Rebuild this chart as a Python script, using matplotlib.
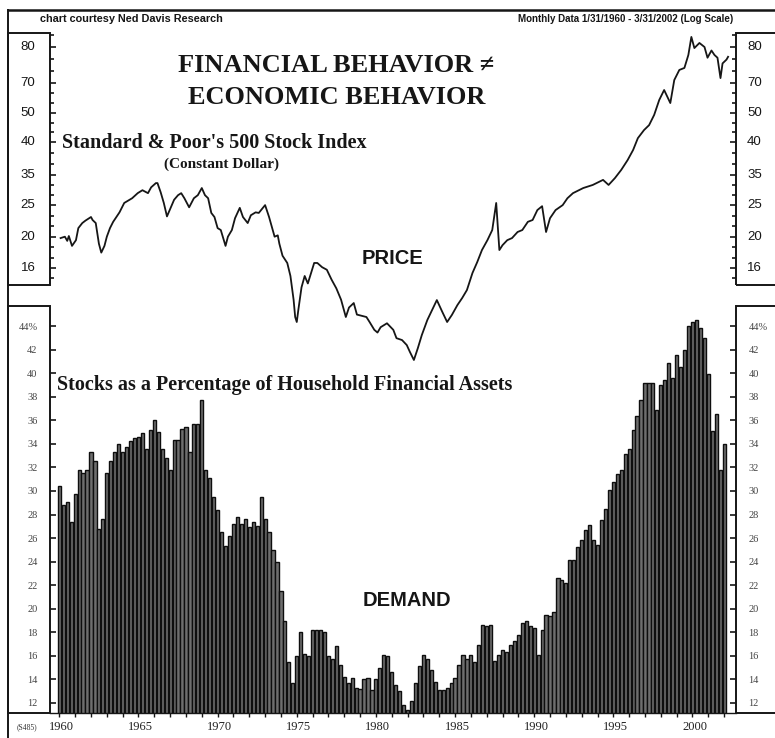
import matplotlib
matplotlib.use('Agg')
import matplotlib.pyplot as plt
from matplotlib.patches import Rectangle
from matplotlib.lines import Line2D
from matplotlib.ticker import FixedLocator, NullLocator
import matplotlib.transforms as mtransforms
import numpy as np

# ---------------- data ----------------
price_years = [1960.08, 1960.35, 1960.5, 1960.6, 1960.8, 1961.05, 1961.2, 1961.45, 1961.65, 1962.0,
               1962.1, 1962.3, 1962.5, 1962.65, 1962.85, 1963.0, 1963.2, 1963.4, 1963.6, 1963.8,
               1964.1, 1964.6, 1964.95, 1965.25, 1965.6, 1965.8, 1966.1, 1966.2, 1966.4, 1966.6,
               1966.8, 1967.05, 1967.25, 1967.5, 1967.7, 1967.9, 1968.2, 1968.5, 1968.75, 1969.0,
               1969.2, 1969.4, 1969.6, 1969.8, 1970.0, 1970.2, 1970.5, 1970.65, 1970.9, 1971.1,
               1971.4, 1971.6, 1971.9, 1972.1, 1972.4, 1972.6, 1973.0, 1973.25, 1973.6, 1973.8,
               1973.9, 1974.1, 1974.4, 1974.6, 1974.8, 1974.9, 1975.0, 1975.1, 1975.3, 1975.5,
               1975.7, 1975.9, 1976.1, 1976.3, 1976.6, 1976.9, 1977.2, 1977.5, 1977.8, 1978.1,
               1978.3, 1978.6, 1978.8, 1979.1, 1979.4, 1979.6, 1979.9, 1980.1, 1980.3, 1980.7,
               1981.1, 1981.3, 1981.65, 1981.95, 1982.15, 1982.4, 1982.65, 1982.9, 1983.25, 1983.55,
               1983.85, 1984.2, 1984.5, 1984.8, 1985.15, 1985.45, 1985.75, 1986.1, 1986.4, 1986.7,
               1987.05, 1987.35, 1987.6, 1987.8, 1988.0, 1988.3, 1988.6, 1988.95, 1989.25, 1989.6,
               1989.9, 1990.2, 1990.5, 1990.75, 1991.0, 1991.35, 1991.8, 1992.1, 1992.45, 1993.1,
               1993.7, 1994.35, 1994.7, 1995.1, 1995.5, 1995.9, 1996.25, 1996.55, 1996.94, 1997.26,
               1997.58, 1997.9, 1998.21, 1998.6, 1998.85, 1999.17, 1999.49, 1999.74, 1999.93, 2000.12,
               2000.44, 2000.76, 2000.95, 2001.2, 2001.39, 2001.58, 2001.77, 2001.9, 2002.15, 2002.25]
price_values = [19.9, 20.1, 19.5, 20.2, 18.8, 19.6, 21.4, 22.2, 22.6, 23.2,
                22.7, 22.2, 19.1, 17.9, 18.8, 20.1, 21.4, 22.4, 23.2, 24.0,
                25.7, 26.6, 27.6, 28.2, 27.6, 28.8, 29.7, 29.7, 27.8, 25.7,
                23.3, 24.9, 26.3, 27.2, 27.6, 26.6, 24.9, 26.6, 27.2, 28.65,
                27.2, 26.6, 23.9, 23.2, 21.4, 21.1, 18.8, 20.1, 21.1, 23.0,
                24.8, 23.2, 22.2, 23.5, 24.0, 23.9, 25.3, 23.2, 20.1, 20.3,
                19.1, 17.5, 16.6, 15.1, 12.7, 11.2, 10.8, 11.8, 13.9, 15.1,
                14.3, 15.4, 16.6, 16.6, 16.1, 15.8, 14.7, 13.8, 12.7, 11.2,
                12.0, 12.4, 11.4, 11.3, 11.2, 10.8, 10.2, 10.0, 10.4, 10.7,
                10.2, 9.6, 9.47, 9.13, 8.68, 8.19, 8.93, 9.82, 10.96, 11.78,
                12.67, 11.61, 10.8, 11.37, 12.22, 12.86, 13.63, 15.43, 16.7, 18.24,
                19.62, 21.1, 25.7, 18.24, 18.9, 19.6, 19.9, 20.8, 21.1, 22.4,
                22.7, 24.4, 25.1, 20.8, 23.0, 24.4, 25.3, 26.6, 27.6, 28.65,
                29.3, 30.4, 29.3, 30.8, 32.7, 35.1, 37.8, 41.2, 43.7, 45.3,
                48.8, 54.4, 58.5, 53.2, 62.9, 67.7, 68.7, 75.5, 86.1, 79.4,
                82.4, 80.0, 74.0, 78.0, 75.5, 74.0, 63.8, 71.0, 73.0, 74.5]

price_tick_values = [16.0, 20.05, 25.3, 31.5, 40.1, 49.5, 61.5, 80.0]
price_tick_labels = ['16', '20', '25', '35', '40', '50', '70', '80']

bar_start_year = 1960.0
bar_values = [30.4, 28.8, 29.1, 27.4, 29.7, 31.8, 31.5, 31.8, 33.3, 32.5,
              26.8, 27.6, 31.5, 32.5, 33.3, 34.0, 33.3, 33.7, 34.2, 34.5,
              34.6, 34.9, 33.6, 35.2, 36.0, 35.0, 33.6, 32.8, 31.8, 34.3,
              34.3, 35.3, 35.4, 33.3, 35.7, 35.7, 37.7, 31.8, 31.1, 29.5,
              28.4,
              26.5, 25.3, 26.2, 27.2, 27.8, 27.2, 27.6, 26.9, 27.4, 27.0,
              29.5, 27.6, 26.5, 25.0, 24.0, 21.5, 19.0, 15.5,
              13.7, 16.0, 18.0, 16.2, 16.0, 18.2, 18.2, 18.2, 18.0, 16.0,
              15.7, 16.8, 15.2, 14.2, 13.7, 14.1, 13.3, 13.2, 14.0, 14.1,
              13.1, 14.0, 15.0, 16.1, 16.0, 14.6, 13.5, 13.0, 11.8, 11.4,
              12.2, 13.7, 15.1, 16.1, 15.7, 14.8, 13.8, 13.1, 13.1, 13.3,
              13.7, 14.1, 15.2, 16.1, 15.7, 16.1, 15.5, 16.9, 18.6, 18.5,
              18.6, 15.6, 16.1, 16.5, 16.3, 16.9, 17.3, 17.8, 18.8, 19.0,
              18.5, 18.4, 16.1, 18.2, 19.5, 19.4, 19.7, 22.6, 22.4, 22.2,
              24.1, 24.1, 25.2, 25.8, 26.7, 27.1, 25.8, 25.4, 27.5, 28.5,
              30.1, 30.8, 31.4, 31.8, 33.1, 33.6, 35.2, 36.4, 37.7, 39.2,
              39.2, 39.2, 36.9, 39.0, 39.4, 40.9,
              39.6, 41.5, 40.5, 42.0, 44.0, 44.3, 44.5, 43.8, 43.0, 39.9,
              35.1, 36.5, 31.8, 34.0]
bar_years = [bar_start_year + 0.25 * i for i in range(len(bar_values))]

pct_tick_values = [12, 14, 16, 18, 20, 22, 24, 26, 28, 30, 32, 34, 36, 38, 40, 42, 44]
pct_tick_labels = ['12', '14', '16', '18', '20', '22', '24', '26', '28', '30',
                   '32', '34', '36', '38', '40', '42', '44%']
year_label_values = [1960, 1965, 1970, 1975, 1980, 1985, 1990, 1995, 2000]
year_label_texts = ['1960', '1965', '1970', '1975', '1980', '1985', '1990', '1995', '2000']

# ---------------- layout ----------------
W, H = 775, 738
fig = plt.figure(figsize=(W / 100, H / 100), dpi=100)
fig.patch.set_facecolor('white')

def fx(px):
    return px / W

def fy(py):
    return 1 - py / H

SERIF = ['Liberation Serif', 'DejaVu Serif']
SANS = ['Liberation Sans', 'DejaVu Sans']
XMIN, XMAX = 1959.41, 2002.75
INK = '#161616'

# price axes
ax_p = fig.add_axes([fx(50), fy(285), fx(736) - fx(50), fy(33) - fy(285)], facecolor='none')
ax_p.set_yscale('log')
ax_p.set_ylim(14.14, 88.6)
ax_p.set_xlim(XMIN, XMAX)
ax_p.plot(price_years, price_values, color=INK, lw=1.3, clip_on=False, zorder=5)
for s in ax_p.spines.values():
    s.set_visible(False)
ax_p.xaxis.set_major_locator(NullLocator())
ax_p.xaxis.set_minor_locator(NullLocator())
ax_p.yaxis.set_major_locator(FixedLocator(price_tick_values))
ax_p.set_yticklabels(price_tick_labels)
lv = np.log(price_tick_values)
minor = []
for a, b in zip(lv[:-1], lv[1:]):
    minor += [np.exp(a + (b - a) / 3), np.exp(a + 2 * (b - a) / 3)]
minor += [np.exp(lv[-1] + (lv[-1] - lv[-2]) / 3), np.exp(lv[0] - (lv[1] - lv[0]) / 3)]
ax_p.yaxis.set_minor_locator(FixedLocator(minor))
ax_p.yaxis.set_minor_formatter(plt.NullFormatter())
ax_p.tick_params(axis='y', which='both', direction='in', left=True, right=True,
                 labelleft=False, labelright=False, width=1.2, color=INK)
ax_p.tick_params(axis='y', which='major', length=4)
ax_p.tick_params(axis='y', which='minor', length=3)
for v, lab in zip(price_tick_values, price_tick_labels):
    yy = ax_p.transData.transform((2000, v))[1]
    ax_p.text(fx(35.5), yy / H, lab, transform=fig.transFigure,
              ha='right', va='center', fontsize=9.5, family=SANS, color=INK)
    ax_p.text(fx(747), yy / H, lab, transform=fig.transFigure,
              ha='left', va='center', fontsize=9.5, family=SANS, color=INK)

# bars axes
ax_b = fig.add_axes([fx(50), fy(713), fx(736) - fx(50), fy(306) - fy(713)], facecolor='none')
base = 11.15
ax_b.set_ylim(base, 45.7)
ax_b.set_xlim(XMIN, XMAX)
ax_b.bar(bar_years, [v - base for v in bar_values], bottom=base, width=0.2,
         color='#6e6e6e', edgecolor='#0e0e0e', linewidth=1.0, zorder=3)
for k in ['left', 'right', 'top']:
    ax_b.spines[k].set_visible(False)
ax_b.spines['bottom'].set_linewidth(1.0)
ax_b.spines['bottom'].set_color(INK)
ax_b.set_yticks(pct_tick_values)
ax_b.set_yticklabels(pct_tick_labels)
ax_b.tick_params(axis='y', which='major', direction='in', left=True, right=True,
                 labelleft=True, labelright=True, length=4, width=1.2, color=INK,
                 labelsize=7.5, labelcolor='#444444')
ax_b.tick_params(axis='y', which='major', pad=9)
for lab in ax_b.get_yticklabels():
    lab.set_family(SERIF)
ax_b.set_xticks(list(range(1960, 2003)))
ax_b.set_xticklabels([year_label_texts[year_label_values.index(y)] if y in year_label_values else ''
                      for y in range(1960, 2003)])
ax_b.tick_params(axis='x', which='major', direction='out', length=3, width=1.0, color=INK,
                 labelsize=9, labelcolor='#222222', pad=3)
for lab in ax_b.get_xticklabels():
    lab.set_family(SERIF)
    lab.set_transform(lab.get_transform() + mtransforms.ScaledTranslation(2 / 100, 0, fig.dpi_scale_trans))

# boxes and frame
for (x0, y0, x1, y1) in [(8, 33, 50, 285), (736, 33, 790, 285), (8, 306, 50, 713), (736, 306, 790, 713)]:
    fig.add_artist(Rectangle((fx(x0), fy(y1)), fx(x1) - fx(x0), fy(y0) - fy(y1), fill=False,
                             lw=1.4, edgecolor=INK, transform=fig.transFigure, clip_on=False))
fig.add_artist(Line2D([fx(8), 1.0], [fy(10), fy(10)], transform=fig.transFigure, lw=1.8, color=INK))
fig.add_artist(Line2D([fx(8), fx(8)], [fy(10), 0.0], transform=fig.transFigure, lw=1.4, color=INK))

# texts
fig.text(fx(40), fy(19), 'chart courtesy Ned Davis Research', ha='left', va='center',
         fontsize=7.8, fontweight='bold', family=SANS, color=INK)
fig.text(fx(733), fy(19), 'Monthly Data 1/31/1960 - 3/31/2002 (Log Scale)', ha='right', va='center',
         fontsize=7.0, fontweight='bold', family=SANS, color=INK)
fig.text(fx(336), fy(65), 'FINANCIAL BEHAVIOR \u2260', ha='center', va='center',
         fontsize=19, fontweight='bold', family=SERIF, color=INK)
fig.text(fx(337), fy(97), 'ECONOMIC BEHAVIOR', ha='center', va='center',
         fontsize=19, fontweight='bold', family=SERIF, color=INK)
fig.text(fx(62), fy(143), "Standard & Poor's 500 Stock Index", ha='left', va='center',
         fontsize=14.5, fontweight='bold', family=SERIF, color=INK)
fig.text(fx(222), fy(164), '(Constant Dollar)', ha='center', va='center',
         fontsize=11, fontweight='bold', family=SERIF, color=INK)
fig.text(fx(392), fy(258), 'PRICE', ha='center', va='center',
         fontsize=14.5, fontweight='bold', family=SANS, color=INK)
fig.text(fx(57), fy(385), 'Stocks as a Percentage of Household Financial Assets', ha='left', va='center',
         fontsize=14.5, fontweight='bold', family=SERIF, color=INK)
fig.text(fx(407), fy(600), 'DEMAND', ha='center', va='center',
         fontsize=14.5, fontweight='bold', family=SANS, color=INK)
fig.text(fx(27), fy(727), '(S485)', ha='center', va='center',
         fontsize=5.5, family=SERIF, color='#333333')

fig.savefig('out.png', dpi=100, facecolor='white')
